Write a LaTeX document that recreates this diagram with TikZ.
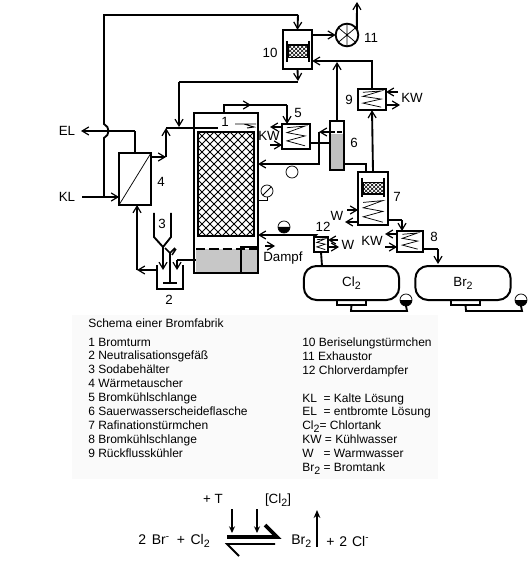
\documentclass[tikz,border=0pt]{standalone}
\usepackage{fontspec}
\setmainfont{Liberation Sans}
\usepackage{tikz}
\usetikzlibrary{arrows.meta,calc,patterns}
\newcommand{\subtwo}{\raisebox{-.45ex}{\footnotesize 2}}
\newcommand{\coil}[3]{\draw[line width=.55pt, shift={#1}, xscale=#2, yscale=#3] (-.7,-.8) -- (.7,-.95) -- (-.7,-.35) -- (.7,-.05) -- (-.7,.4) -- (.7,.85);}
\newcommand{\levelmark}[2]{\node[gaugering] (#1) at #2 {}; \fill (#1.west) arc[start angle=180, end angle=360, radius=4.5pt] -- cycle;}

\begin{document}
\begin{tikzpicture}[
  x=0.75pt, y=-0.75pt,
  vessel/.style={draw, line width=1.5pt, inner sep=0pt, outer sep=0pt, fill=white},
  gaugering/.style={draw, circle, line width=.55pt, minimum size=9pt, inner sep=0pt, outer sep=0pt, fill=white},
  tank/.style={vessel, rounded corners=9.5pt, minimum width=71.5pt, minimum height=25.5pt, font=\fontsize{10}{11}\selectfont},
  foot/.style={draw, line width=1.1pt, inner sep=0pt, outer sep=0pt, minimum height=3.75pt},
  packing/.style={draw, line width=1pt, pattern=crosshatch, inner sep=0pt, outer sep=0pt},
  pipe/.style={line width=1.4pt},
  arrow/.style={pipe, -{Straight Barb[length=5pt, width=6pt, line width=.9pt]}},
  label/.style={font=\fontsize{10}{11}\selectfont, inner sep=0pt},
  reaction/.style={font=\fontsize{10.5}{12}\selectfont, inner sep=0pt},
  legend/.style={font=\fontsize{9}{10.43}\selectfont, inner sep=0pt, align=left}
]
\useasboundingbox (0,0) rectangle (528,573);

% legend
\fill[black!2] (72,315) rectangle (438,479);
\node[legend, anchor=west] (title) at (88,323) {Schema einer Bromfabrik};
\node[legend, anchor=north west] (leftcol) at (88,337.5) {1 Bromturm\\2 Neutralisationsgefäß\\3 Sodabehälter\\4 Wärmetauscher\\5 Bromkühlschlange\\6 Sauerwasserscheideflasche\\7 Rafinationstürmchen\\8 Bromkühlschlange\\9 Rückflusskühler};
\node[legend, anchor=north west] (rightcol) at (302,337.5) {10 Beriselungstürmchen\\11 Exhaustor\\12 Chlorverdampfer\\ \mbox{}\\KL\ \ = Kalte Lösung\\EL\ \ = entbromte Lösung\\Cl\subtwo= Chlortank\\KW = Kühlwasser\\W\ \ \ = Warmwasser\\Br\subtwo{} = Bromtank};

% tower
\node[vessel, minimum width=47.5pt, minimum height=120pt] (tower) at (226,193) {};
\fill[black!22] (196,249) rectangle (257,272);
\begin{scope}
  \clip (198,132) rectangle (254,236);
  \foreach \k in {-104,-96,...,56} {
    \draw[line width=.55pt] (198+\k,132) -- (302+\k,236);
    \draw[line width=.55pt] (198+\k,236) -- (302+\k,132);
  }
\end{scope}
\node[draw, line width=1.3pt, minimum width=42pt, minimum height=78pt, inner sep=0pt, outer sep=0pt] (pack) at (226,184) {};
\draw[line width=1.3pt, dashed, dash pattern=on 7pt off 3pt] (196,249) -- (257,249);
\draw[pipe] (241,273) -- (241,247) -- (258,247);
\node[label] (n1) at (225,122) {1};
\draw[line width=.7pt] (235,124) -- (256,124) (244,124) -- (254,127) -- (247,128);

% heat exchanger 4
\node[vessel, minimum width=24pt, minimum height=39pt] (b4) at (135,179) {};
\draw[line width=.55pt] (b4.south west) -- (b4.north east);
\node[label] (n4) at (161,182) {4};
\node[label] (kl) at (67,197) {KL};
\node[label] (el) at (67,131) {EL};

% vessels on top
\node[vessel, minimum width=22pt, minimum height=29.5pt] (b10) at (297.5,49.5) {};
\node[packing, minimum width=15pt, minimum height=9.5pt] (h10) at (298,51.5) {};
\draw[pipe] (287,41) -- (287,62) (309,41) -- (309,62);
\node[label] (n10) at (270,53) {10};
\node[draw, circle, line width=1.4pt, minimum size=17pt, inner sep=0pt, outer sep=0pt] (fan) at (347,35) {};
\draw[line width=.55pt] (fan.north) -- (fan.south) (fan.40) -- (fan.220) (fan.140) -- (fan.320);
\node[label] (n11) at (371,38) {11};
\coordinate (stack) at (357,2);
\node[vessel, minimum width=21pt, minimum height=16pt] (b9) at (372,99.5) {};
\coil{(b9.center)}{13}{9}
\node[label] (n9) at (349,100) {9};
\node[label] (kw9) at (412,98) {KW};

% cooler 5
\node[vessel, minimum width=21pt, minimum height=19pt] (b5) at (296,136.5) {};
\coil{(b5.center)}{13}{11}
\node[label] (n5) at (298,113) {5};
\node[label] (kw5) at (269,136) {KW};

% separator 6
\node[vessel, line width=1.2pt, minimum width=10.5pt, minimum height=37pt, fill=black!25, path picture={\fill[white] (path picture bounding box.north west) rectangle ([yshift=-9.75pt]path picture bounding box.north east);}] (b6) at (337,145.5) {};
\draw[pipe, dashed, dash pattern=on 3.5pt off 2pt] (330,132) -- (344,132);
\node[label] (n6) at (354,143) {6};
\node[gaugering] (ring) at (292,172) {};

% tower 7
\node[vessel, minimum width=22.5pt, minimum height=40pt] (b7) at (373,198.5) {};
\node[packing, minimum width=15.5pt, minimum height=8.5pt] (h7) at (373.5,188.5) {};
\draw[pipe] (362,178) -- (362,197) (384,178) -- (384,197);
\coil{(373,212)}{14}{12}
\node[label] (n7) at (397,197) {7};
\node[label] (w7) at (337,216) {W};

% cooler 8
\node[vessel, minimum width=19.5pt, minimum height=16pt] (b8) at (410,241.5) {};
\coil{(b8.center)}{11}{9}
\node[label] (n8) at (434,237) {8};
\node[label] (kw8) at (372,241) {KW};

% evaporator 12
\node[vessel, minimum width=10.5pt, minimum height=11.5pt] (b12) at (321,244.5) {};
\coil{(b12.center)}{6}{6}
\node[label] (n12) at (323,227) {12};
\node[label] (w12) at (348,245) {W};
\node[label, anchor=west] (dampf) at (263,258) {Dampf};

% tanks
\node[tank] (cl) at (351.5,283) {Cl\subtwo};
\node[tank] (br) at (463,283) {Br\subtwo};
\node[foot, minimum width=22pt, anchor=north] (fcl) at (351.5,300) {};
\node[foot, minimum width=22pt, anchor=north] (fbr) at (465.5,300) {};
\levelmark{m1}{(284,227)}
\levelmark{m2}{(406,300)}
\levelmark{m3}{(521,300)}

% gauge
\node[gaugering] (gauge) at (267,191) {};
\draw[line width=.55pt] (gauge.center) -- (gauge.45) (gauge.center) -- (gauge.225);
\draw[line width=.7pt] (gauge.south) -- (267,200) -- (259,200);

% neutralisation and soda
\node[label] (n3) at (162,224) {3};
\node[label] (n2) at (169,300) {2};
\draw[pipe] (154,213) -- (154,237) -- (163,247) -- (171,237) -- (171,213);
\draw[pipe] (157,265) -- (157,289) -- (183,289) -- (183,265);
\coordinate (stir) at (170,253);
\coordinate (stirfoot) at (170,283);
\draw[line width=1.1pt] (stir) -- (stirfoot) (163,283) -- (177,283);
\draw[line width=1.1pt] (stir) -- (165,248) (stir) -- (175,248) (172,255) -- (176,249);
\coordinate (drain) at (137,270);

% pipes
\draw[arrow] (kl.east) ++(7,0) -- (b4.west |- kl);
\draw[pipe] (104,197) -- (104,138) .. controls (110,135) and (110,127) .. (104,124) -- (104,15) -- (298,15);
\draw[arrow] (298,15) -- (b10.north);
\draw[pipe] (b4.north) -- (135,131);
\draw[arrow] (135,131) -- (81,131);
\draw[arrow] (b4.east |- 0,157) -- (166,157);
\draw[pipe] (166,157) -- (166,140);
\draw[arrow] (166,140) -- (166,128);
\draw[pipe] (166,128) -- (218,128);
\draw[arrow] (b10.south) -- (298,81);
\draw[pipe] (298,82) -- (179,82);
\draw[arrow] (179,82) -- (179,127);
\draw[arrow] (b10.east |- fan) -- (fan.west);
\draw[arrow] (fan.30) -- (stack);
\draw[pipe] (b9.north) -- (372,61) -- (330,61);
\draw[arrow] (330,61) -- (b10.east |- 0,61);
\draw[arrow] (b6.north) -- (337,62);
\draw[arrow] (373,172) -- (b9.south);
\draw[arrow] (398,92) -- (b9.east |- 0,92);
\draw[arrow] (b9.east |- 0,105) -- (400,105);
\draw[pipe] ($(tower.north)+(-2,0)$) -- (224,105) -- (287,105);
\draw[arrow] (224,105) -- (251,105);
\draw[arrow] (287,105) -- (287,124);
\draw[arrow] (b5.west |- 0,127) -- (270,127);
\draw[arrow] (270,145) -- (b5.west |- 0,145);
\draw[pipe] (b5.east |- 0,143) -- (b6.west |- 0,143);
\draw[arrow] (330,132) -- (319,132);
\draw[pipe] (319,132) -- (319,164) -- (270,164);
\draw[arrow] (270,164) -- (258,164);
\draw[pipe] (b6.east |- 0,164) -- (366,164) -- (366,172);
\draw[arrow] (347,210) -- (b7.west |- 0,210);
\draw[arrow] (b7.west |- 0,222) -- (345,222);
\draw[pipe] (b7.east |- 0,220) -- (402,220);
\draw[arrow] (402,220) -- (402,231);
\draw[arrow] (b8.west |- 0,234) -- (385,234);
\draw[arrow] (385,247) -- (b8.west |- 0,247);
\draw[pipe] (b8.east |- 0,249) -- (438,249);
\draw[arrow] (438,249) -- (438,264);
\draw[arrow] (338,240) -- (b12.east |- 0,240);
\draw[arrow] (b12.east |- 0,247) -- (339,247);
\draw[pipe] (b12.north west) -- (316,235) -- (270,235);
\draw[arrow] (270,235) -- (258,235);
\draw[pipe] (b12.south) -- (322,266);
\draw[pipe] (fcl.south) -- (351,311) -- (407,311) -- (m2.south);
\draw[pipe] (fbr.south) -- (466,311) -- (522,311) -- (m3.south);
\draw[arrow] (265,246) -- (275,246);
\draw[pipe] (196,260) -- (177,260);
\draw[arrow] (177,260) -- (177,270);
\draw[pipe] (163,247) -- (163,258);
\draw[arrow] (163,258) -- (163,270);
\draw[arrow] (157,270) -- (drain);
\draw[pipe] (drain) -- (137,220);
\draw[arrow] (137,220) -- (137,205);

% equilibrium
\node[label] (plust) at (213,499) {+ T};
\node[label] (cltwo) at (278,500) {[Cl\subtwo]};
\node[reaction, anchor=east] (educt) at (210,541) {2\hspace{.4em}Br\textsuperscript{-}\hspace{.5em}+\hspace{.4em}Cl\subtwo};
\node[reaction, anchor=west] (brom) at (291,541) {Br\subtwo};
\node[reaction, anchor=west] (prod) at (326,541) {+\hspace{.35em}2\hspace{.35em}Cl\textsuperscript{-}};
\coordinate (fw) at (227,537);
\coordinate (fe) at (277,537);
\coordinate (bw) at (227,544);
\coordinate (be) at (275,544);
\draw[line width=2.8pt] (fw) -- (fe) -- (265,525);
\draw[line width=1.4pt] (be) -- (bw) -- (239,556);
\draw[pipe, -{Stealth[length=5pt, width=4.5pt]}] (232,509) -- (232,533);
\draw[pipe, -{Stealth[length=5pt, width=4.5pt]}] (257,509) -- (257,533);
\draw[line width=1.4pt, -{Stealth[length=6pt, width=5pt]}] (317,547) -- (317,510);

\end{tikzpicture}
\end{document}
